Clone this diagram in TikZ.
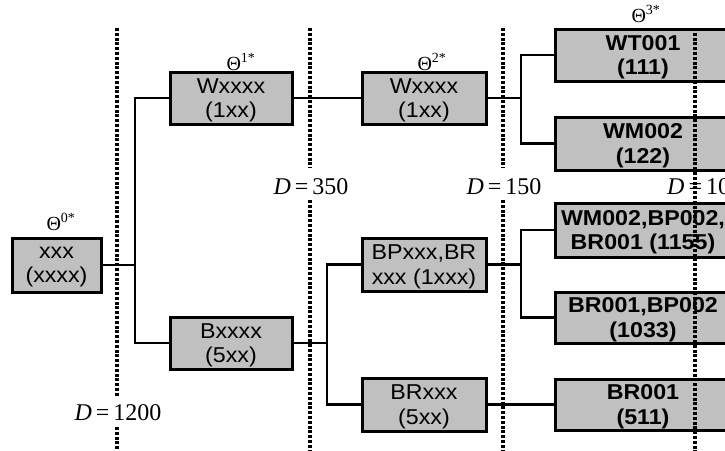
\documentclass[tikz,border=0pt]{standalone}
\usepackage{fontspec}
\setmainfont{Liberation Sans}
\newfontfamily\boxfont[FakeStretch=1.08]{Liberation Sans}
\newfontfamily\serifD{Liberation Serif}
\definecolor{boxgray}{RGB}{192,192,192}
\tikzset{
  boxnode/.style={draw=black, line width=3pt, fill=boxgray, inner sep=0pt, align=center,
    font=\boxfont\fontsize{21.5}{24.5}\selectfont, text depth=0pt},
  leftbox/.style={boxnode, minimum width=122pt, minimum height=52pt},
  rightbox/.style={boxnode, minimum width=176pt, minimum height=52pt,
    font=\boxfont\fontsize{21.5}{24.5}\selectfont\bfseries},
  link/.style={draw=black, line width=2.2pt},
  dotline/.style={draw=black, line width=3.4pt, dash pattern=on 3pt off 1.8pt},
  dlabel/.style={font=\serifD\fontsize{24}{26}\selectfont, inner sep=0pt},
  thlabel/.style={font=\serifD\fontsize{20}{22}\selectfont, inner sep=0pt}
}
\begin{document}
\begin{tikzpicture}[x=1pt,y=-1pt]
\clip (0,0) rectangle (725,450);
\fill[white] (0,0) rectangle (725,450);

% boxes
\node[boxnode, minimum width=89pt, minimum height=54pt] (b0) at (56.5,265) {xxx\\(xxxx)};
\node[leftbox] (b1) at (231,98) {Wxxxx\\(1xx)};
\node[leftbox] (b1b) at (231,343) {Bxxxx\\(5xx)};
\node[leftbox, minimum width=124pt] (b2) at (424,98) {Wxxxx\\(1xx)};
\node[leftbox, minimum width=124pt, minimum height=53pt] (b2b) at (424,264.5) {BPxxx,BR\\xxx (1xxx)};
\node[leftbox, minimum width=124pt, minimum height=53pt] (b2c) at (424,404.5) {BRxxx\\(5xx)};
\node[rightbox] (b3a) at (643,55) {WT001\\(111)};
\node[rightbox, minimum height=53pt] (b3b) at (643,143.5) {WM002\\(122)};
\node[rightbox, minimum height=54pt] (b3c) at (643,230) {WM002,BP002,\\BR001 (1155)};
\node[rightbox, minimum height=51pt] (b3d) at (643,317.5) {BR001,BP002\\(1033)};
\node[rightbox, minimum height=51pt] (b3e) at (643,404.5) {BR001\\(511)};

% trunk coordinates
\coordinate (t0) at (135,0);
\coordinate (t1) at (327,0);
\coordinate (t2) at (521,0);

% connectors
\draw[link] (b0.east) -- (t0 |- b0.east);
\draw[link] (b1.west) -- (t0 |- b1.west) -- (t0 |- b1b.west) -- (b1b.west);
\draw[link] (b1.east) -- (b2.west);
\draw[link] (b2.east) -- (t2 |- b2.east);
\draw[link] (b3a.west) -- (t2 |- b3a.west) -- (t2 |- b3b.west) -- (b3b.west);
\draw[link] (b1b.east) -- (t1 |- b1b.east);
\draw[link] (b2b.west) -- (t1 |- b2b.west) -- (t1 |- b2c.west) -- (b2c.west);
\draw[link] (b2b.east) -- (t2 |- b2b.east);
\draw[link] (b3c.west) -- (t2 |- b3c.west) -- (t2 |- b3d.west) -- (b3d.west);
\draw[link] (b2c.east) -- (b3e.west);

% dotted distance lines
\coordinate (d1top) at (117,28);
\coordinate (d1a) at (117,397);
\coordinate (d1b) at (117,427);
\coordinate (d1bot) at (117,452);
\draw[dotline] (d1top) -- (d1a);
\draw[dotline] (d1b) -- (d1bot);
\coordinate (d2top) at (310,28);
\coordinate (d2a) at (310,168);
\coordinate (d2b) at (310,200);
\coordinate (d2bot) at (310,452);
\draw[dotline] (d2top) -- (d2a);
\draw[dotline] (d2b) -- (d2bot);
\coordinate (d3top) at (503,28);
\coordinate (d3a) at (503,168);
\coordinate (d3b) at (503,200);
\coordinate (d3bot) at (503,452);
\draw[dotline] (d3top) -- (d3a);
\draw[dotline] (d3b) -- (d3bot);
\coordinate (d4top) at (695,28);
\coordinate (d4bot) at (695,452);
\draw[dotline] (d4top) -- (d4bot);

% distance labels
\node[dlabel] (l1200) at (118,413) {\textit{D}\,=\,1200};
\node[dlabel] (l350) at (311,187) {\textit{D}\,=\,350};
\node[dlabel] (l150) at (504,187) {\textit{D}\,=\,150};
\node[dlabel, anchor=west] (l100) at (667,187) {\textit{D}\,=\,100};

% theta labels
\node[thlabel] (th0) at (61,222) {Θ\textsuperscript{0*}};
\node[thlabel] (th1) at (241,62) {Θ\textsuperscript{1*}};
\node[thlabel] (th2) at (432,62) {Θ\textsuperscript{2*}};
\node[thlabel] (th3) at (646,14) {Θ\textsuperscript{3*}};
\end{tikzpicture}
\end{document}
